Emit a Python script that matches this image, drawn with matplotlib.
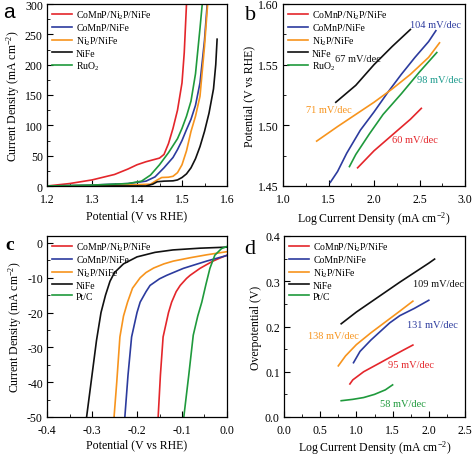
import matplotlib
matplotlib.use("Agg")
import matplotlib.pyplot as plt
from matplotlib.ticker import MultipleLocator, AutoMinorLocator, FormatStrFormatter

plt.rcParams['font.family'] = ['Liberation Serif', 'DejaVu Serif']
plt.rcParams['mathtext.fontset'] = 'custom'
plt.rcParams['mathtext.rm'] = 'Liberation Serif'
plt.rcParams['mathtext.it'] = 'Liberation Serif:italic'
plt.rcParams['axes.unicode_minus'] = False

RED, BLUE, ORANGE, BLACK, GREEN = '#e4262b', '#2c3b9e', '#f7941d', '#111111', '#1f9a3c'
TEAL = '#1b9a8c'

names_oer = ['CoMnP/Ni$_2$P/NiFe', 'CoMnP/NiFe', 'Ni$_2$P/NiFe', 'NiFe', 'RuO$_2$']
names_her = ['CoMnP/Ni$_2$P/NiFe', 'CoMnP/NiFe', 'Ni$_2$P/NiFe', 'NiFe', 'Pt/C']

# ---- panel a: OER polarization (V, mA cm-2)
a_red_v = [1.20, 1.25, 1.30, 1.35, 1.38, 1.40, 1.42, 1.45, 1.46, 1.47, 1.48, 1.49, 1.50, 1.505, 1.51]
a_red_j = [0, 4, 10, 19, 28, 35, 40, 46, 52, 70, 95, 125, 170, 220, 300]
a_blue_v = [1.20, 1.30, 1.38, 1.42, 1.44, 1.46, 1.48, 1.49, 1.50, 1.51, 1.52, 1.53, 1.54, 1.55, 1.556]
a_blue_j = [0, 1.5, 4, 8, 15, 30, 47, 60, 75, 93, 110, 133, 170, 240, 300]
a_orange_v = [1.20, 1.35, 1.43, 1.445, 1.455, 1.47, 1.48, 1.49, 1.50, 1.51, 1.52, 1.53, 1.54, 1.55, 1.557]
a_orange_j = [0, 1, 3, 10, 14, 14.5, 16, 22, 35, 58, 90, 115, 148, 230, 300]
a_black_v = [1.20, 1.42, 1.435, 1.445, 1.46, 1.48, 1.49, 1.50, 1.51, 1.52, 1.53, 1.54, 1.55, 1.56, 1.57, 1.575, 1.578]
a_black_j = [0, 0, 3, 7, 8, 8.5, 10, 14, 20, 30, 45, 65, 90, 120, 160, 200, 242]
a_green_v = [1.20, 1.30, 1.38, 1.41, 1.43, 1.45, 1.47, 1.49, 1.50, 1.51, 1.52, 1.53, 1.54, 1.545]
a_green_j = [0, 1.5, 4, 8, 18, 35, 55, 78, 95, 115, 140, 185, 260, 300]

# ---- panel b: OER Tafel (log j, V)
b_red_x = [1.82, 2.0, 2.2, 2.4, 2.52]
b_red_y = [1.465, 1.479, 1.492, 1.505, 1.514]
b_blue_x = [1.52, 1.6, 1.7, 1.85, 2.0, 2.15, 2.3, 2.45, 2.6, 2.68]
b_blue_y = [1.453, 1.462, 1.477, 1.496, 1.511, 1.527, 1.542, 1.556, 1.569, 1.578]
b_orange_x = [1.37, 1.6, 1.8, 2.0, 2.2, 2.4, 2.6, 2.72]
b_orange_y = [1.487, 1.499, 1.509, 1.519, 1.530, 1.542, 1.556, 1.568]
b_black_x = [1.58, 1.8, 2.0, 2.2, 2.4]
b_black_y = [1.519, 1.533, 1.550, 1.565, 1.579]
b_green_x = [1.73, 1.8, 1.95, 2.1, 2.3, 2.5, 2.69]
b_green_y = [1.466, 1.476, 1.493, 1.509, 1.526, 1.544, 1.560]
b_slopes = ['60 mV/dec', '104 mV/dec', '71 mV/dec', '67 mV/dec', '98 mV/dec']

# ---- panel c: HER polarization (V, mA cm-2)
c_red_v = [-0.153, -0.148, -0.142, -0.13, -0.123, -0.113, -0.104, -0.09, -0.082, -0.06, -0.045, -0.031, -0.015, 0]
c_red_j = [-50, -38, -27, -20, -17, -14, -12.2, -10.2, -9.3, -7.3, -6.2, -5.2, -4.3, -3.5]
c_blue_v = [-0.227, -0.22, -0.212, -0.20, -0.193, -0.18, -0.171, -0.15, -0.134, -0.11, -0.097, -0.07, -0.045, -0.02, 0]
c_blue_j = [-50, -38, -27, -20, -17, -14, -12.2, -10.3, -9.3, -8, -7.3, -6.2, -5.2, -4.3, -3.6]
c_orange_v = [-0.251, -0.245, -0.238, -0.23, -0.221, -0.21, -0.193, -0.18, -0.163, -0.14, -0.119, -0.08, -0.045, 0]
c_orange_j = [-50, -40, -27, -21, -17, -13, -10, -8.5, -7.2, -6, -5.2, -4.2, -3.4, -2.5]
c_black_v = [-0.312, -0.30, -0.29, -0.28, -0.27, -0.26, -0.25, -0.23, -0.20, -0.16, -0.12, -0.06, 0]
c_black_j = [-50, -38, -28, -20, -15, -11, -8.5, -6, -4, -2.7, -2, -1.5, -1.2]
c_green_v = [-0.096, -0.085, -0.075, -0.065, -0.056, -0.047, -0.038, -0.027, -0.012, 0]
c_green_j = [-50, -38, -26.5, -21, -17, -12, -7.3, -3.5, -1.6, -1.0]

# ---- panel d: HER Tafel (log j, overpotential V)
d_red_x = [0.91, 0.95, 1.1, 1.33, 1.5, 1.65, 1.78]
d_red_y = [0.073, 0.082, 0.100, 0.120, 0.135, 0.148, 0.159]
d_blue_x = [0.96, 1.05, 1.2, 1.46, 1.6, 1.8, 2.0]
d_blue_y = [0.120, 0.145, 0.170, 0.208, 0.224, 0.240, 0.258]
d_orange_x = [0.75, 0.85, 1.0, 1.2, 1.4, 1.6, 1.78]
d_orange_y = [0.113, 0.135, 0.160, 0.186, 0.210, 0.234, 0.256]
d_black_x = [0.79, 1.0, 1.2, 1.4, 1.6, 1.8, 2.0, 2.08]
d_black_y = [0.206, 0.232, 0.254, 0.276, 0.298, 0.319, 0.340, 0.349]
d_green_x = [0.79, 0.95, 1.1, 1.25, 1.4, 1.5]
d_green_y = [0.036, 0.039, 0.043, 0.050, 0.060, 0.071]
d_slopes = ['95 mV/dec', '131 mV/dec', '138 mV/dec', '109 mV/dec', '58 mV/dec']

W, H = 474, 456
fig = plt.figure(figsize=(W / 100, H / 100), dpi=100)

def box(l, t, r, b):
    return [l / W, 1 - b / H, (r - l) / W, (b - t) / H]

axa = fig.add_axes(box(47, 5, 227, 187))
axb = fig.add_axes(box(283, 5, 465, 187))
axc = fig.add_axes(box(47, 237, 227, 418))
axd = fig.add_axes(box(284, 237, 465, 418))

LW = 1.2
TICK_FS = 8.5
LAB_FS = 8.5
LEG_FS = 7
ANN_FS = 7.5

def style(ax, xmaj, ymaj, xfmt, yfmt):
    ax.xaxis.set_major_locator(MultipleLocator(xmaj))
    ax.yaxis.set_major_locator(MultipleLocator(ymaj))
    ax.xaxis.set_minor_locator(AutoMinorLocator(2))
    ax.yaxis.set_minor_locator(AutoMinorLocator(2))
    ax.xaxis.set_major_formatter(FormatStrFormatter(xfmt))
    ax.yaxis.set_major_formatter(FormatStrFormatter(yfmt))
    ax.tick_params(which='major', direction='in', length=4, width=0.8, labelsize=TICK_FS)
    ax.tick_params(axis='x', which='major', pad=5)
    ax.tick_params(axis='y', which='major', pad=3)
    ax.tick_params(which='minor', direction='in', length=2, width=0.6)
    for s in ax.spines.values():
        s.set_linewidth(0.9)

def legend(ax, labels):
    ax.legend(labels, loc='upper left', bbox_to_anchor=(0.0, 1.0), frameon=False,
              fontsize=LEG_FS, handlelength=2.1, handletextpad=0.4, labelspacing=0.2,
              borderaxespad=0.1)

# panel a
for vx, jy, c in [(a_red_v, a_red_j, RED), (a_blue_v, a_blue_j, BLUE), (a_orange_v, a_orange_j, ORANGE),
                  (a_black_v, a_black_j, BLACK), (a_green_v, a_green_j, GREEN)]:
    axa.plot(vx, jy, color=c, lw=LW)
axa.set_xlim(1.2, 1.6)
axa.set_ylim(0, 300)
style(axa, 0.1, 50, '%.1f', '%d')
axa.set_xlabel('Potential (V vs RHE)', fontsize=LAB_FS, labelpad=3)
axa.set_ylabel('Current Density (mA cm$^{-2}$)', fontsize=LAB_FS, labelpad=2)
legend(axa, names_oer)

# panel b
for xx, yy, c in [(b_red_x, b_red_y, RED), (b_blue_x, b_blue_y, BLUE), (b_orange_x, b_orange_y, ORANGE),
                  (b_black_x, b_black_y, BLACK), (b_green_x, b_green_y, GREEN)]:
    axb.plot(xx, yy, color=c, lw=LW)
axb.set_xlim(1.0, 3.0)
axb.set_ylim(1.45, 1.60)
style(axb, 0.5, 0.05, '%.1f', '%.2f')
axb.set_xlabel('Log Current Density (mA cm$^{-2}$)', fontsize=LAB_FS, labelpad=3)
axb.set_ylabel('Potential (V vs RHE)', fontsize=LAB_FS, labelpad=2)
legend(axb, names_oer)
b_pos = [(2.45, 1.488), (2.68, 1.583), (1.50, 1.513), (1.82, 1.555), (2.72, 1.538)]
for txt, (x, y), c in zip(b_slopes, b_pos, [RED, BLUE, ORANGE, BLACK, TEAL]):
    axb.text(x, y, txt, color=c, fontsize=ANN_FS, ha='center', va='center')

# panel c
for vx, jy, c in [(c_red_v, c_red_j, RED), (c_blue_v, c_blue_j, BLUE), (c_orange_v, c_orange_j, ORANGE),
                  (c_black_v, c_black_j, BLACK), (c_green_v, c_green_j, GREEN)]:
    axc.plot(vx, jy, color=c, lw=LW)
axc.set_xlim(-0.4, 0.0)
axc.set_ylim(-50, 2)
style(axc, 0.1, 10, '%.1f', '%d')
axc.set_xlabel('Potential (V vs RHE)', fontsize=LAB_FS, labelpad=2)
axc.set_ylabel('Current Density (mA cm$^{-2}$)', fontsize=LAB_FS, labelpad=2)
legend(axc, names_her)

# panel d
for xx, yy, c in [(d_red_x, d_red_y, RED), (d_blue_x, d_blue_y, BLUE), (d_orange_x, d_orange_y, ORANGE),
                  (d_black_x, d_black_y, BLACK), (d_green_x, d_green_y, GREEN)]:
    axd.plot(xx, yy, color=c, lw=LW)
axd.set_xlim(0.0, 2.5)
axd.set_ylim(0.0, 0.4)
style(axd, 0.5, 0.1, '%.1f', '%.1f')
axd.set_xlabel('Log Current Density (mA cm$^{-2}$)', fontsize=LAB_FS, labelpad=2)
axd.set_ylabel('Overpotential (V)', fontsize=LAB_FS, labelpad=2)
legend(axd, names_her)
d_pos = [(1.76, 0.115), (2.05, 0.205), (0.68, 0.181), (2.13, 0.295), (1.64, 0.029)]
for txt, (x, y), c in zip(d_slopes, d_pos, [RED, BLUE, ORANGE, BLACK, GREEN]):
    axd.text(x, y, txt, color=c, fontsize=ANN_FS, ha='center', va='center')

# panel letters
fig.text(3 / W, 1 - 13 / H, 'a', fontsize=15, family='Liberation Sans', va='center', ha='left')
fig.text(245 / W, 1 - 15 / H, 'b', fontsize=16, va='center', ha='left')
fig.text(5 / W, 1 - 246 / H, 'c', fontsize=14, fontweight='bold', va='center', ha='left')
fig.text(244 / W, 1 - 250 / H, 'd', fontsize=16, va='center', ha='left')

fig.savefig('out.png', dpi=100)
